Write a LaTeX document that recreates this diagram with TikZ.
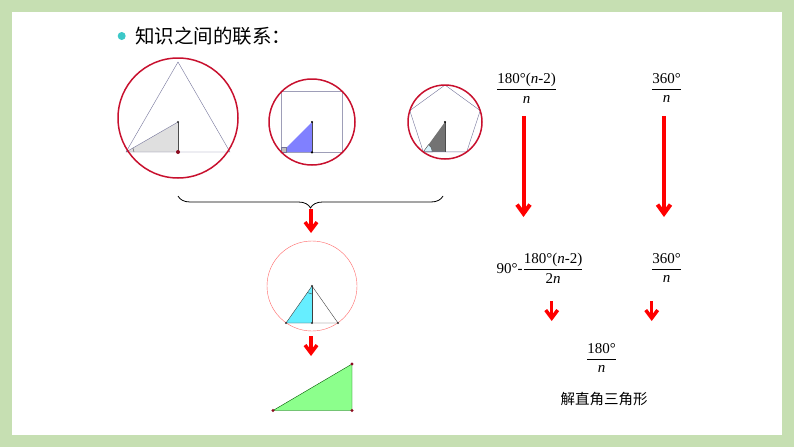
\documentclass[tikz,border=0pt]{standalone}
\usepackage{amsmath}
\usepackage{fontspec}
\setmainfont{Liberation Serif}
\newfontfamily\cjk{Noto Sans CJK SC}
\usetikzlibrary{arrows.meta,decorations.pathreplacing}

\definecolor{framegreen}{HTML}{C6DFB2}
\definecolor{circred}{HTML}{C8102E}
\definecolor{edgegray}{HTML}{74749A}
\definecolor{bulletcyan}{HTML}{3CC8C8}
\definecolor{aqua}{HTML}{66EEFF}

\newcommand{\frm}[2]{$\dfrac{\text{#1}}{\text{#2}}$}

\begin{document}
\begin{tikzpicture}[x=1pt, y=-1pt,
	bigarrow/.style={red, line width=4pt, -{Straight Barb[length=9pt,width=13pt]}},
	smallarrow/.style={red, line width=3.5pt, -{Straight Barb[length=8pt,width=12pt]}},
	formula/.style={inner sep=1pt, font=\fontsize{15}{18}\selectfont},
	dot/.style={radius=1.2pt}]
	
	% ----- frame
	\fill[framegreen] (0,0) rectangle (794,447);
	\fill[white] (12,12) rectangle (782,435);
	\useasboundingbox (0,0) rectangle (794,447);
	
	% ----- title
	\fill[bulletcyan] (121.7,36) circle[radius=4pt];
	\node[anchor=west, inner sep=0pt, font=\cjk\fontsize{19.5}{22}\selectfont] (title) at (135,36) {知识之间的联系：};
	
	% ----- triangle in circle
	\begin{scope}
		\coordinate (O1) at (178,122);
		\fill[gray!25] (126,152) -- (178,152) -- (O1) -- cycle;
		\draw[edgegray] (178,62) -- (126,152) -- (230,152) -- cycle;
		\draw[edgegray] (126,152) -- (O1);
		\draw[black!70] (O1) -- (178,152);
		\draw[black!70] (126,152) ++(8pt,0pt) arc[start angle=0, end angle=30, radius=8pt];
		\draw[circred, line width=1.5pt] (178,118) circle[radius=60pt];
		\fill[black!80] (O1) circle[dot];
		\fill[circred!70!black] (178,152) circle[radius=2pt];
	\end{scope}
	
	% ----- square in circle
	\begin{scope}
		\coordinate (O2) at (312,122);
		\fill[blue!50] (281.6,152.4) -- (312,152.4) -- (O2) -- cycle;
		\draw[edgegray!70] (281.6,91.6) rectangle (342.4,152.4);
		\draw[black!70] (O2) -- (312,152.4);
		\filldraw[fill=gray!50, draw=edgegray] (281.6,147.4) rectangle (286.6,152.4);
		\draw[circred, line width=1.5pt] (O2) circle[radius=43pt];
		\fill (O2) circle[dot];
		\fill (312,152.4) circle[dot];
	\end{scope}
	
	% ----- pentagon in circle
	\begin{scope}
		\coordinate (O3) at (445,122);
		\fill[black!55] (423.3,151.9) -- (445,151.9) -- (O3) -- cycle;
		\filldraw[fill=cyan!15, draw=black!70] (423.3,151.9) -- ++(9pt,0pt) arc[start angle=0, end angle=54, radius=9pt] -- cycle;
		\draw[edgegray] (445,85) -- (409.8,110.6) -- (423.3,151.9) -- (466.7,151.9) -- (480.2,110.6) -- cycle;
		\draw[black!70] (O3) -- (445,151.9);
		\draw[circred, line width=1.5pt] (O3) circle[radius=37pt];
		\fill (O3) circle[dot];
	\end{scope}
	
	% ----- brace and arrow down
	\coordinate (brL) at (178,196);
	\coordinate (brR) at (443,196);
	\draw[decorate, decoration={brace, mirror, amplitude=12pt}, thick] (brL) -- (brR);
	\coordinate (br1) at (311,209);
	\coordinate (br2) at (311,233);
	\draw[smallarrow] (br1) -- (br2);
	
	% ----- isosceles triangle in circle
	\begin{scope}
		\coordinate (O4) at (312,286);
		\fill[aqua] (286,323) -- (312,323) -- (O4) -- cycle;
		\draw[black!75] (286,323) -- (338,323) -- (O4) -- cycle;
		\draw[black!75] (O4) -- (312,323);
		\draw[black!75] (O4) ++(235:8pt) arc[start angle=235, end angle=270, radius=8pt];
		\draw[red!60] (O4) circle[radius=45pt];
		\foreach \p in {(O4), (286,323), (312,323), (338,323)}
		\fill[black!80] \p circle[dot];
	\end{scope}
	
	\coordinate (ar1) at (311,336);
	\coordinate (ar2) at (311,356);
	\draw[smallarrow] (ar1) -- (ar2);
	
	% ----- right triangle
	\filldraw[fill=green!45!white, draw=green!35!black] (273,410.5) -- (352,410.5) -- (352,364) -- cycle;
	\foreach \p in {(273,410.5), (352,410.5), (352,364)}
	\fill[circred!70!black] \p circle[radius=1.6pt];
	
	% ----- formulas
	\node[formula] (intAng) at (526.7,88) {\frm{180°(\textit{n}-2)}{\textit{n}}};
	\node[formula] (cenAng) at (666.7,88) {\frm{360°}{\textit{n}}};
	\node[formula] (halfInt) at (540,268) {90°-\frm{180°(\textit{n}-2)}{2\textit{n}}};
	\node[formula] (halfCen) at (666.7,268) {\frm{360°}{\textit{n}}};
	\node[formula] (halfAng) at (601.7,358) {\frm{180°}{\textit{n}}};
	\node[font=\cjk\fontsize{14.5}{17}\selectfont] (solve) at (604,399) {解直角三角形};
	
	% arrows between formulas
	\coordinate (int1) at (523.5,116);
	\coordinate (int2) at (523.5,217);
	\coordinate (cen1) at (664,116);
	\coordinate (cen2) at (664,217);
	\draw[bigarrow] (int1) -- (int2);
	\draw[bigarrow] (cen1) -- (cen2);
	\coordinate (hi1) at (551.7,301);
	\coordinate (hi2) at (551.7,321);
	\coordinate (hc1) at (651.7,301);
	\coordinate (hc2) at (651.7,321);
	\draw[smallarrow] (hi1) -- (hi2);
	\draw[smallarrow] (hc1) -- (hc2);
	
\end{tikzpicture}
\end{document}
